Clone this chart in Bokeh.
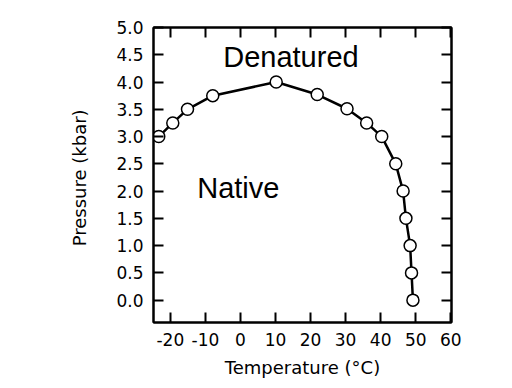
from bokeh.plotting import figure
from bokeh.models import LinearAxis, FixedTicker, Range1d, ColumnDataSource
from bokeh.embed import file_html
from bokeh.resources import INLINE
from bokeh.core.properties import value

# Data
temperature = [-23.3, -19.3, -15.1, -7.9, 10.2, 21.9, 30.4, 36.0, 40.3, 44.3, 46.4, 47.2, 48.4, 48.8, 49.2]
pressure = [3.0, 3.25, 3.5, 3.75, 4.0, 3.77, 3.51, 3.25, 3.0, 2.5, 2.0, 1.5, 1.0, 0.5, 0.0]

x_ticks = [-20, -10, 0, 10, 20, 30, 40, 50, 60]
x_tick_labels = ["-20", "-10", "0", "10", "20", "30", "40", "50", "60"]
y_ticks = [0.0, 0.5, 1.0, 1.5, 2.0, 2.5, 3.0, 3.5, 4.0, 4.5, 5.0]
y_tick_labels = ["0.0", "0.5", "1.0", "1.5", "2.0", "2.5", "3.0", "3.5", "4.0", "4.5", "5.0"]

region_labels = ["Denatured", "Native"]
region_x = [14.4, -0.6]
region_y = [4.45, 2.06]

tick_font = "DejaVu Sans"

p = figure(frame_width=298, frame_height=295, output_backend="svg", toolbar_location=None,
           x_range=Range1d(-24.8, 60.2), y_range=Range1d(-0.41, 5.0),
           min_border_left=153, min_border_top=27, min_border_right=50, min_border_bottom=58,
           x_axis_label="Temperature (°C)", y_axis_label="Pressure  (kbar)")
p.grid.visible = False
p.outline_line_color = "black"
p.outline_line_width = 2
p.background_fill_color = "white"
p.border_fill_color = "white"

p.add_layout(LinearAxis(), "above")
p.add_layout(LinearAxis(), "right")

for ax in p.xaxis:
    ax.ticker = FixedTicker(ticks=x_ticks)
    ax.major_label_overrides = {t: l for t, l in zip(x_ticks, x_tick_labels)}
for ax in p.yaxis:
    ax.ticker = FixedTicker(ticks=y_ticks)
    ax.major_label_overrides = {t: l for t, l in zip(y_ticks, y_tick_labels)}

for ax in p.axis:
    ax.major_tick_in = 10
    ax.major_tick_out = 0
    ax.minor_tick_line_color = None
    ax.major_tick_line_color = "black"
    ax.major_tick_line_width = 2
    ax.axis_line_color = "black"
    ax.axis_line_width = 2
    ax.major_label_text_font = tick_font
    ax.major_label_text_font_size = "17px"
    ax.major_label_text_color = "black"
    ax.axis_label_text_font = tick_font
    ax.axis_label_text_font_size = "18px"
    ax.axis_label_text_font_style = "normal"
    ax.axis_label_text_color = "black"

bottom = p.below[0]
left = p.left[0]
bottom.major_label_standoff = 10
bottom.axis_label_standoff = 8
left.major_label_standoff = 10
left.axis_label_standoff = 23

# top and right axes: ticks only, labels not drawn
for ax in (p.above[0], p.right[0]):
    ax.major_label_text_color = None
    ax.major_label_text_font_size = "1px"
    ax.major_label_standoff = 0

src = ColumnDataSource(dict(t=temperature, p=pressure))
p.line("t", "p", source=src, line_color="black", line_width=2.5)
p.scatter("t", "p", source=src, size=12, fill_color="white", line_color="black", line_width=1.5)

lab = ColumnDataSource(dict(x=region_x, y=region_y, text=region_labels))
p.text("x", "y", text="text", source=lab, text_font=value("Liberation Sans"), text_font_size="29px",
       text_align="center", text_baseline="alphabetic", text_color="black")

open("out.html", "w").write(file_html(p, INLINE))
